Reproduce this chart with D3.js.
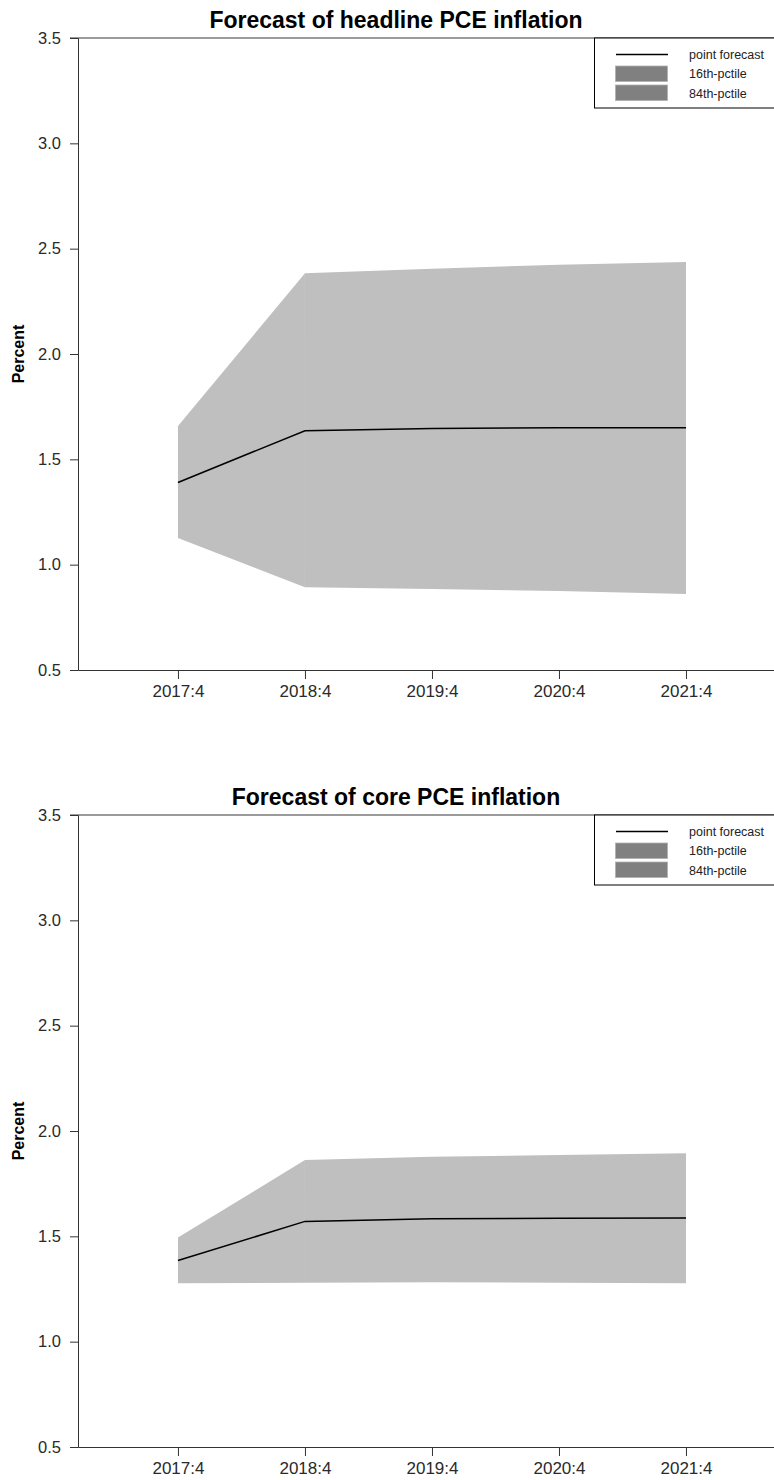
<!DOCTYPE html>
<html>
<head>
<meta charset="utf-8">
<script src="https://cdn.jsdelivr.net/npm/d3@7"></script>
<style>
  body { margin: 0; background: #fff; }
  svg { display: block; font-family: "Liberation Sans", Arial, sans-serif; }
</style>
</head>
<body>
<div id="charts"></div>
<script>
const periods = ["2017:4", "2018:4", "2019:4", "2020:4", "2021:4"];
const yTicks = [0.5, 1.0, 1.5, 2.0, 2.5, 3.0, 3.5];
const legendLabels = ["point forecast", "16th-pctile", "84th-pctile"];

const headlinePoint = [1.39, 1.636, 1.646, 1.65, 1.65];
const headlineP16 = [1.127, 0.893, 0.885, 0.875, 0.861];
const headlineP84 = [1.658, 2.383, 2.405, 2.424, 2.437];

const corePoint = [1.385, 1.571, 1.584, 1.586, 1.587];
const coreP16 = [1.277, 1.28, 1.282, 1.28, 1.277];
const coreP84 = [1.494, 1.862, 1.878, 1.886, 1.894];

const width = 774;
const height = 1480;

const svg = d3
  .select("#charts")
  .append("svg")
  .attr("width", width)
  .attr("height", height);

function ForecastPanel(offsetY, title, point, lo, hi) {
  const left = 78;
  const right = 774;
  const top = 38;
  const bottom = 670;

  const g = svg.append("g").attr("transform", "translate(0," + offsetY + ")");

  const xScale = d3.scaleLinear().domain([0.213, 5.693]).range([left, right]);
  const yScale = d3.scaleLinear().domain([0.5, 3.5]).range([bottom, top]);

  const rows = periods.map((p, i) => ({ i: i + 1, p: point[i], lo: lo[i], hi: hi[i] }));

  // band drawn segment by segment, like the original
  const area = d3
    .area()
    .x((d) => xScale(d.i))
    .y0((d) => yScale(d.lo))
    .y1((d) => yScale(d.hi));
  for (let k = 0; k < rows.length - 1; k++) {
    g.append("path")
      .datum([rows[k], rows[k + 1]])
      .attr("fill", "#bfbfbf")
      .attr("d", area);
  }

  const line = d3
    .line()
    .x((d) => xScale(d.i))
    .y((d) => yScale(d.p));
  g.append("path")
    .datum(rows)
    .attr("fill", "none")
    .attr("stroke", "#000")
    .attr("stroke-width", 1.5)
    .attr("d", line);

  // top frame line
  g.append("line")
    .attr("x1", left - 8)
    .attr("x2", right)
    .attr("y1", top)
    .attr("y2", top)
    .attr("stroke", "#7a7a7a")
    .attr("stroke-width", 1.6);

  const yaxis = d3
    .axisLeft(yScale)
    .tickValues(yTicks)
    .tickFormat(d3.format(".1f"))
    .tickSize(8)
    .tickPadding(9);
  const ya = g.append("g").attr("transform", "translate(" + left + ",0)").call(yaxis);
  ya.select(".domain").attr("stroke", "#333");
  ya.selectAll(".tick line").attr("stroke", "#333");
  ya.selectAll("text")
    .style("font-size", "16.5px")
    .attr("fill", "#2a2a2a");

  const xaxis = d3
    .axisBottom(xScale)
    .tickValues([1, 2, 3, 4, 5])
    .tickFormat((d) => periods[d - 1])
    .tickSizeInner(9)
    .tickSizeOuter(0)
    .tickPadding(6);
  const xa = g.append("g").attr("transform", "translate(0," + bottom + ")").call(xaxis);
  xa.select(".domain").attr("stroke", "#333");
  xa.selectAll(".tick line").attr("stroke", "#333");
  xa.selectAll("text")
    .style("font-size", "17px")
    .attr("fill", "#2a2a2a");

  g.append("text")
    .attr("x", 396)
    .attr("y", 28)
    .attr("text-anchor", "middle")
    .style("font-size", "23px")
    .style("font-weight", "bold")
    .text(title);

  g.append("text")
    .attr("transform", "translate(24," + (top + bottom) / 2 + ") rotate(-90)")
    .attr("text-anchor", "middle")
    .style("font-size", "16px")
    .style("font-weight", "bold")
    .text("Percent");

  // legend
  const lg = g.append("g");
  lg.append("rect")
    .attr("x", 594.5)
    .attr("y", top)
    .attr("width", 190)
    .attr("height", 70)
    .attr("fill", "#fff")
    .attr("stroke", "#000");
  lg.append("line")
    .attr("x1", 616)
    .attr("x2", 668)
    .attr("y1", 54.5)
    .attr("y2", 54.5)
    .attr("stroke", "#000")
    .attr("stroke-width", 1.5);
  [66, 85].forEach((y) => {
    lg.append("rect")
      .attr("x", 615.5)
      .attr("y", y)
      .attr("width", 52)
      .attr("height", 15.5)
      .attr("fill", "#808080")
      .attr("stroke", "#b0b0b0")
      .attr("stroke-width", 0.8);
  });
  legendLabels.forEach((t, i) => {
    lg.append("text")
      .attr("x", 689)
      .attr("y", [58.5, 78, 97.5][i])
      .style("font-size", "12.5px")
      .attr("fill", "#222")
      .text(t);
  });
}

ForecastPanel(0, "Forecast of headline PCE inflation", headlinePoint, headlineP16, headlineP84);
ForecastPanel(777, "Forecast of core PCE inflation", corePoint, coreP16, coreP84);
</script>
</body>
</html>
